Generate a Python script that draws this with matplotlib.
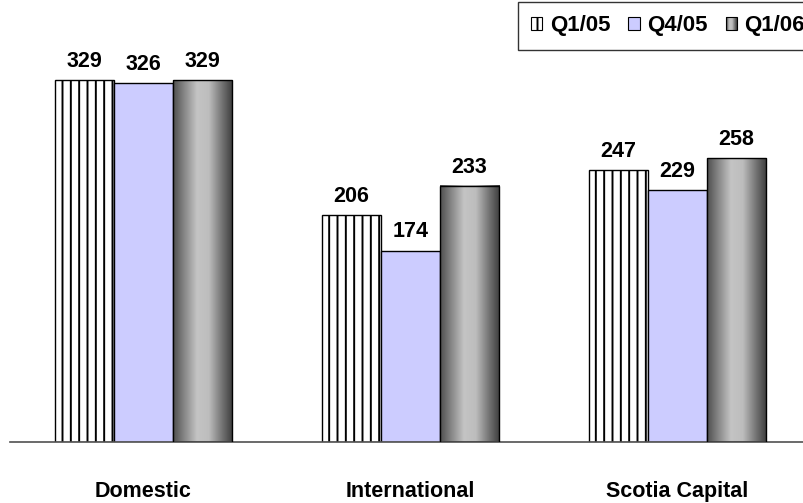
import numpy as np
import matplotlib
matplotlib.use("Agg")
import matplotlib.pyplot as plt
from matplotlib.patches import Rectangle
from matplotlib.colors import LinearSegmentedColormap
from matplotlib.legend_handler import HandlerBase

# Data
categories = ["Domestic", "International", "Scotia Capital"]
series_names = ["Q1/05", "Q4/05", "Q1/06"]
q1_05 = [329, 206, 247]
q4_05 = [326, 174, 229]
q1_06 = [329, 233, 258]
values = [q1_05, q4_05, q1_06]

plt.rcParams["font.family"] = ["Liberation Sans", "DejaVu Sans"]
plt.rcParams["hatch.linewidth"] = 1.4

cyl = LinearSegmentedColormap.from_list(
    "cyl", ["#4e4e4e", "#8a8a8a", "#c4c4c4", "#bdbdbd", "#7a7a7a", "#3c3c3c"])

fig = plt.figure(figsize=(8.04, 5.03), dpi=100)
ax = fig.add_axes([10 / 804, 61 / 503, 801 / 804, 407 / 503])

x = np.arange(len(categories))
width = 0.221
offsets = [-width, 0, width]

bars_a = ax.bar(x + offsets[0], q1_05, width, facecolor="white",
                edgecolor="black", hatch="||", linewidth=1.0, zorder=2)
bars_b = ax.bar(x + offsets[1], q4_05, width, facecolor="#ccccff",
                edgecolor="black", linewidth=1.0, zorder=2)
bars_c = ax.bar(x + offsets[2], q1_06, width, facecolor="none",
                edgecolor="black", linewidth=1.0, zorder=3)

# Cylinder-like shading for the Q1/06 bars
grad = np.linspace(0, 1, 256).reshape(1, -1)
for b in bars_c:
    x0, y0 = b.get_x(), b.get_y()
    ax.imshow(grad, cmap=cyl, aspect="auto", zorder=2,
              extent=(x0, x0 + b.get_width(), y0, y0 + b.get_height()),
              interpolation="bilinear")
ax.set_xlim(-0.5, 2.5)
ax.set_ylim(0, 370)

# Value labels
for bars, vals in zip([bars_a, bars_b, bars_c], values):
    for b, v in zip(bars, vals):
        ax.annotate(f"{v}", (b.get_x() + b.get_width() / 2, v),
                    xytext=(0, 9.5), textcoords="offset points",
                    ha="center", va="baseline", fontsize=15.5,
                    fontweight="bold")

# Axes styling
for s in ["top", "right", "left"]:
    ax.spines[s].set_visible(False)
ax.spines["bottom"].set_color("#505050")
ax.spines["bottom"].set_linewidth(1.2)
ax.set_yticks([])
ax.set_xticks(x)
ax.set_xticklabels(categories, fontsize=15.5, fontweight="bold")
ax.tick_params(axis="x", length=0, pad=28)


class GradientHandler(HandlerBase):
    def create_artists(self, legend, orig_handle, xdescent, ydescent,
                       width, height, fontsize, trans):
        arts = []
        n = 12
        for i in range(n):
            r = Rectangle((-xdescent + width * i / n, -ydescent), width / n,
                          height, facecolor=cyl((i + 0.5) / n),
                          edgecolor="none", transform=trans)
            arts.append(r)
        arts.append(Rectangle((-xdescent, -ydescent), width, height,
                              facecolor="none", edgecolor="black",
                              linewidth=0.8, transform=trans))
        return arts


h_a = Rectangle((0, 0), 1, 1, facecolor="white", edgecolor="black",
                hatch="||", linewidth=0.8)
h_b = Rectangle((0, 0), 1, 1, facecolor="#ccccff", edgecolor="black",
                linewidth=0.8)
h_c = Rectangle((0, 0), 1, 1)

leg = fig.legend([h_a, h_b, h_c], series_names, loc="upper left",
                 bbox_to_anchor=(518 / 804, 1 - 2 / 503), ncol=3,
                 frameon=True, fancybox=False, edgecolor="black",
                 prop={"weight": "bold", "size": 16},
                 handlelength=0.5, handleheight=0.5, handletextpad=0.35,
                 columnspacing=0.8, borderpad=0.6, borderaxespad=0,
                 handler_map={h_c: GradientHandler()})
leg.get_frame().set_linewidth(1.0)

fig.savefig("out.png", dpi=100)
